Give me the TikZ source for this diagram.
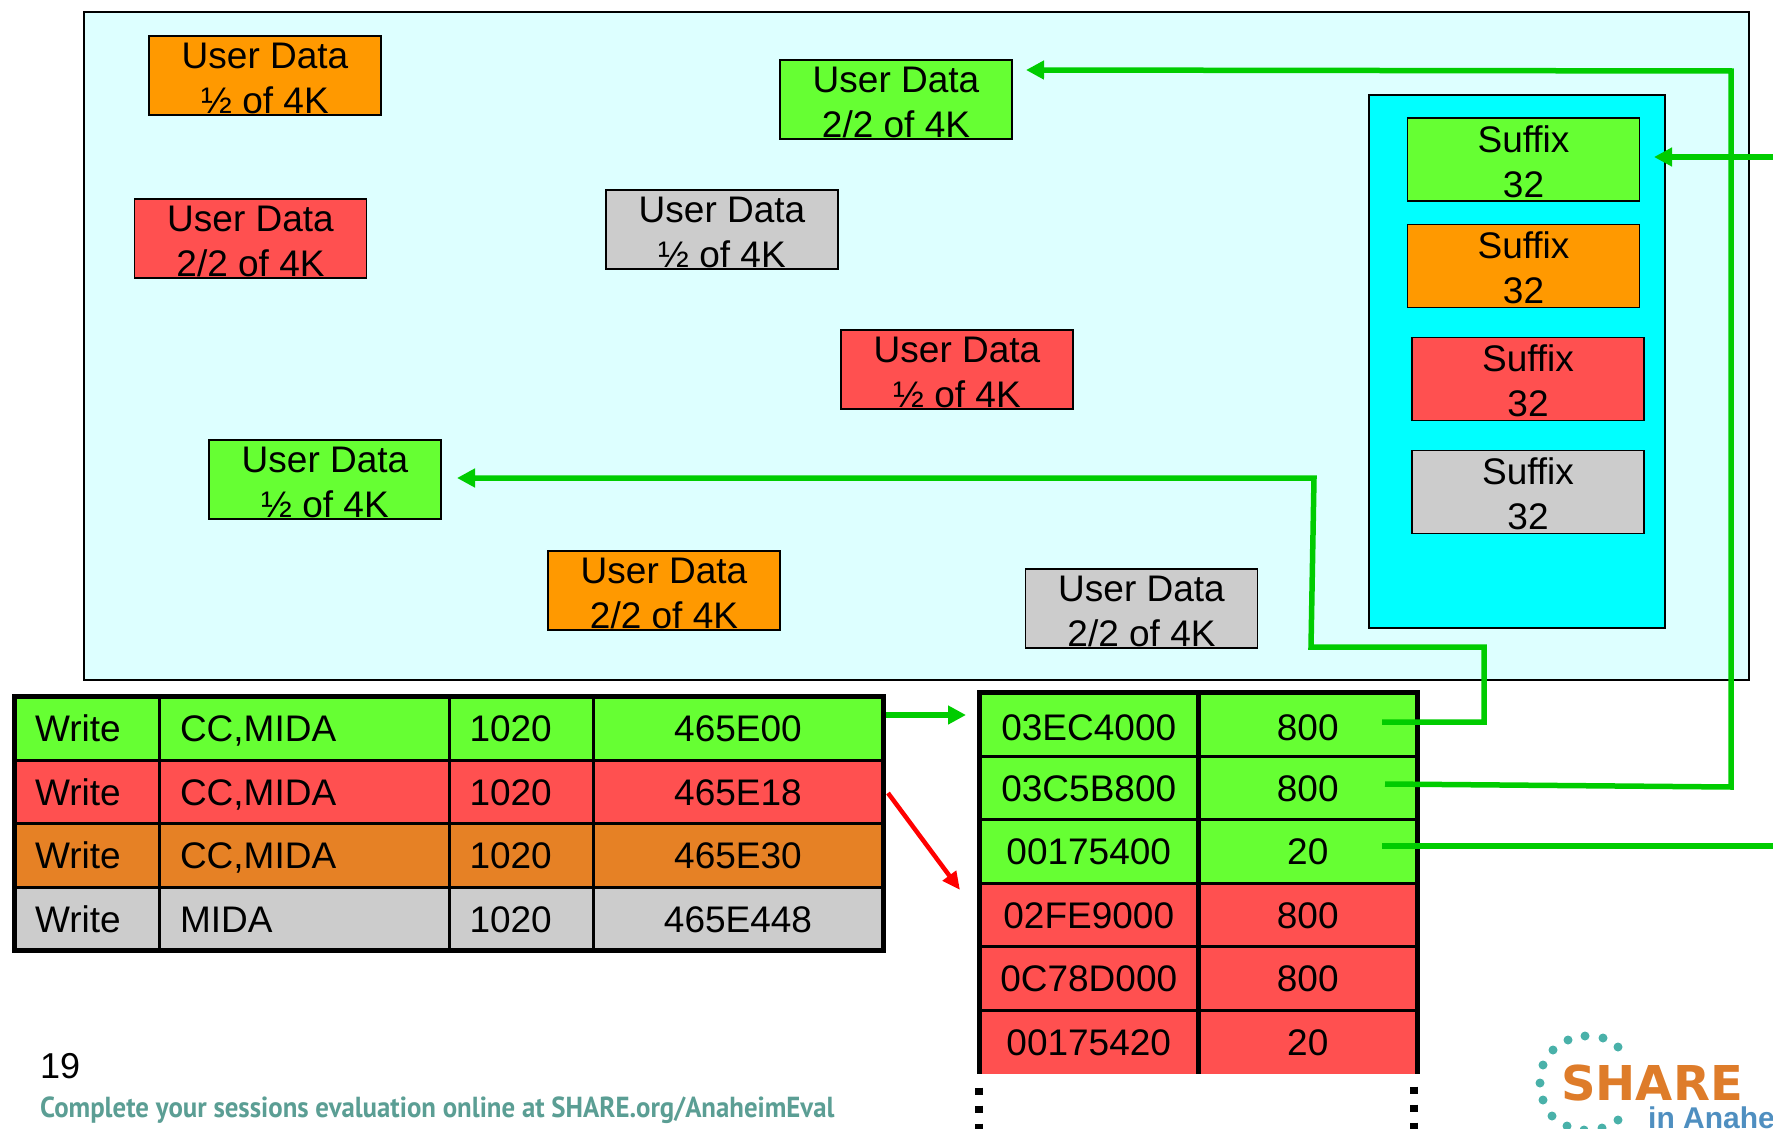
\documentclass[tikz,border=0pt]{standalone}
\usepackage{fontspec}
\setmainfont{Liberation Sans}
\newfontfamily\footfont{PT Sans}
\newfontfamily\logofont{DejaVu Sans}
\usetikzlibrary{arrows.meta}
\definecolor{boxgreen}{HTML}{66FF33}
\definecolor{boxorange}{HTML}{FF9900}
\definecolor{boxred}{HTML}{FF5050}
\definecolor{boxgray}{HTML}{CCCCCC}
\definecolor{roworange}{HTML}{E68125}
\definecolor{areapale}{HTML}{DDFFFF}
\definecolor{areacyan}{HTML}{00FFFF}
\definecolor{linkgreen}{HTML}{00CC00}
\definecolor{footteal}{HTML}{5B9E94}
\definecolor{logoorange}{HTML}{DE7C2A}
\definecolor{logoblue}{HTML}{4F8FC0}
\newcommand{\lift}{\rule{0pt}{31pt}}
\tikzset{
    userbox/.style={draw=black, line width=1.5pt, outer sep=0pt, inner sep=0pt, minimum width=232pt, minimum height=79pt, align=center, font=\fontsize{37}{45}\selectfont},
    suffixbox/.style={userbox, minimum height=83pt},
    cell/.style={draw=black, line width=3pt, outer sep=0pt, inner xsep=20.5pt, inner ysep=0pt, minimum height=63.5pt, text height=27pt, text depth=0pt, font=\fontsize{37}{40}\selectfont},
    opcell/.style={cell, minimum width=145pt, text width=104pt, align=left},
    flagcell/.style={cell, minimum width=289.5pt, text width=248.5pt, align=left},
    lencell/.style={cell, minimum width=144pt, text width=103pt, align=left},
    addrcell/.style={cell, minimum width=290pt, text width=249pt, align=center},
    realcell/.style={cell, minimum width=219.5pt, inner xsep=0pt},
    countcell/.style={cell, minimum width=218.5pt, inner xsep=0pt},
    border/.style={line width=5pt, line cap=rect},
    link/.style={draw=linkgreen, line width=5.5pt},
    linkhead/.style={link, -{Triangle[length=18pt,width=18pt]}}
}
\begin{document}
\begin{tikzpicture}[x=1pt,y=-1pt]
    \useasboundingbox (0,0) rectangle (1773,1129);

    % Draw the data area and the suffix area
    \node[draw=black, fill=areapale, line width=2pt, outer sep=0pt, minimum width=1665pt, minimum height=668pt] (dataarea) at (916.5,346) {};
    \node[draw=black, fill=areacyan, line width=2pt, outer sep=0pt, minimum width=296pt, minimum height=533pt] (suffixarea) at (1517,361.5) {};

    % Draw the user data boxes
    \node[userbox, fill=boxorange] (udOrangeA) at (265,75.5) {\lift User Data\\½ of 4K};
    \node[userbox, fill=boxgreen] (udGreenB) at (896,99.5) {\lift User Data\\2/2 of 4K};
    \node[userbox, fill=boxred] (udRedB) at (250.5,238.5) {\lift User Data\\2/2 of 4K};
    \node[userbox, fill=boxgray] (udGrayA) at (722,229.5) {\lift User Data\\½ of 4K};
    \node[userbox, fill=boxred] (udRedA) at (957,369.5) {\lift User Data\\½ of 4K};
    \node[userbox, fill=boxgreen] (udGreenA) at (325,479.5) {\lift User Data\\½ of 4K};
    \node[userbox, fill=boxorange] (udOrangeB) at (664,590.5) {\lift User Data\\2/2 of 4K};
    \node[userbox, fill=boxgray] (udGrayB) at (1141.5,608.5) {\lift User Data\\2/2 of 4K};

    % Draw the suffix boxes
    \node[suffixbox, fill=boxgreen] (sfGreen) at (1523.5,159.5) {\lift Suffix\\32};
    \node[suffixbox, fill=boxorange] (sfOrange) at (1523.5,266) {\lift Suffix\\32};
    \node[suffixbox, fill=boxred] (sfRed) at (1528,379) {\lift Suffix\\32};
    \node[suffixbox, fill=boxgray] (sfGray) at (1528,492) {\lift Suffix\\32};

    % Draw the write table
    \node[opcell, fill=boxgreen] (wrOpA) at (87,728.25) {Write};
    \node[flagcell, fill=boxgreen] (wrFlagA) at (304.25,728.25) {CC,MIDA};
    \node[lencell, fill=boxgreen] (wrLenA) at (521,728.25) {1020};
    \node[addrcell, fill=boxgreen] (wrAddrA) at (738,728.25) {465E00};
    \node[opcell, fill=boxred] (wrOpB) at (87,791.75) {Write};
    \node[flagcell, fill=boxred] (wrFlagB) at (304.25,791.75) {CC,MIDA};
    \node[lencell, fill=boxred] (wrLenB) at (521,791.75) {1020};
    \node[addrcell, fill=boxred] (wrAddrB) at (738,791.75) {465E18};
    \node[opcell, fill=roworange] (wrOpC) at (87,855.25) {Write};
    \node[flagcell, fill=roworange] (wrFlagC) at (304.25,855.25) {CC,MIDA};
    \node[lencell, fill=roworange] (wrLenC) at (521,855.25) {1020};
    \node[addrcell, fill=roworange] (wrAddrC) at (738,855.25) {465E30};
    \node[opcell, fill=boxgray] (wrOpD) at (87,918.75) {Write};
    \node[flagcell, fill=boxgray] (wrFlagD) at (304.25,918.75) {MIDA};
    \node[lencell, fill=boxgray] (wrLenD) at (521,918.75) {1020};
    \node[addrcell, fill=boxgray] (wrAddrD) at (738,918.75) {465E448};
    \draw[border] (wrOpA.north west) -- (wrAddrA.north east) -- (wrAddrD.south east) -- (wrOpD.south west) -- cycle;

    % Draw the real address table, last row first
    \node[realcell, fill=boxred, draw=none] (rlAddrF) at (1088.75,1041.75) {00175420};
    \node[countcell, fill=boxred, draw=none] (rlCountF) at (1307.75,1041.75) {20};
    \node[realcell, fill=boxgreen, text height=33pt] (rlAddrA) at (1088.75,724.25) {03EC4000};
    \node[countcell, fill=boxgreen, text height=33pt] (rlCountA) at (1307.75,724.25) {800};
    \node[realcell, fill=boxgreen] (rlAddrB) at (1088.75,787.75) {03C5B800};
    \node[countcell, fill=boxgreen] (rlCountB) at (1307.75,787.75) {800};
    \node[realcell, fill=boxgreen] (rlAddrC) at (1088.75,851.25) {00175400};
    \node[countcell, fill=boxgreen] (rlCountC) at (1307.75,851.25) {20};
    \node[realcell, fill=boxred] (rlAddrD) at (1088.75,914.75) {02FE9000};
    \node[countcell, fill=boxred] (rlCountD) at (1307.75,914.75) {800};
    \node[realcell, fill=boxred] (rlAddrE) at (1088.75,978.25) {0C78D000};
    \node[countcell, fill=boxred] (rlCountE) at (1307.75,978.25) {800};
    \draw[border, line cap=butt] (rlAddrF.south west) -- (rlAddrA.north west) -- (rlCountA.north east) -- (rlCountF.south east);
    \draw[border, line cap=butt] (rlAddrA.north east) -- (rlAddrF.south east);

    % Draw the continuation dots
    \draw[line width=8pt, dash pattern=on 7pt off 11pt] ([yshift=-14pt]rlAddrF.south west) -- ++(0,41);
    \draw[line width=8pt, dash pattern=on 7pt off 11pt] ([xshift=-3pt,yshift=-13pt]rlCountF.south east) -- ++(0,42);

    % Draw the links between the boxes and the tables
    \coordinate (tipGreenB) at (1026,70);
    \coordinate (tipGreenA) at (457,478);
    \coordinate (tipSuffix) at (1654,157);
    \coordinate (tapA) at (1382,722);
    \coordinate (tapB) at (1385,784);
    \coordinate (tapC) at (1382,846);
    \coordinate (offSuffix) at (1773,157);
    \coordinate (offTap) at (1773,846);
    \draw[linkhead] (tapA) -- (1484,722) -- (1484,647) -- (1311,647) -- (1314,478) -- (tipGreenA);
    \draw[linkhead] (tapB) -- (1731,787) -- (1731,71) -- (tipGreenB);
    \draw[link] (tapC) -- (offTap);
    \draw[linkhead] (offSuffix) -- (tipSuffix);

    % Draw the arrows from the write table to the real address table
    \coordinate (fromGreen) at (886,715);
    \coordinate (toGreen) at (966,715);
    \coordinate (fromRed) at (888,793);
    \coordinate (toRed) at (960,890);
    \draw[linkhead] (fromGreen) -- (toGreen);
    \draw[red, line width=4.5pt, -{Triangle[length=18pt,width=16pt]}] (fromRed) -- (toRed);

    % Draw the footer
    \node[anchor=base west, inner sep=0pt, font=\fontsize{36}{40}\selectfont] (pagenum) at (40,1078) {19};
    \node[anchor=base west, inner sep=0pt, text=footteal, font=\footfont\bfseries\fontsize{29}{32}\selectfont] (evalnote) at (40,1117) {\scalebox{0.925}[1]{Complete your sessions evaluation online at SHARE.org/AnaheimEval}};

    % Draw the logo
    \fill[footteal!80!cyan] (1568,1040) circle (4.5) (1585,1036) circle (4.5) (1603,1038) circle (4.5) (1618,1047) circle (4.5)
        (1553,1050) circle (4.5) (1543,1065) circle (4.5) (1540,1083) circle (4.5) (1543,1100) circle (4.5)
        (1552,1116) circle (4.5) (1567,1126) circle (4.5) (1584,1130) circle (4.5) (1602,1128) circle (4.5) (1618,1120) circle (4.5);
    \node[anchor=base west, inner sep=0pt, text=logoorange, font=\logofont\bfseries\fontsize{48}{50}\selectfont] (logoname) at (1561,1100) {SHARE};
    \node[anchor=base west, inner sep=0pt, text=logoblue, font=\bfseries\fontsize{30}{32}\selectfont] (logoplace) at (1648,1128) {in Anahe};
\end{tikzpicture}
\end{document}
